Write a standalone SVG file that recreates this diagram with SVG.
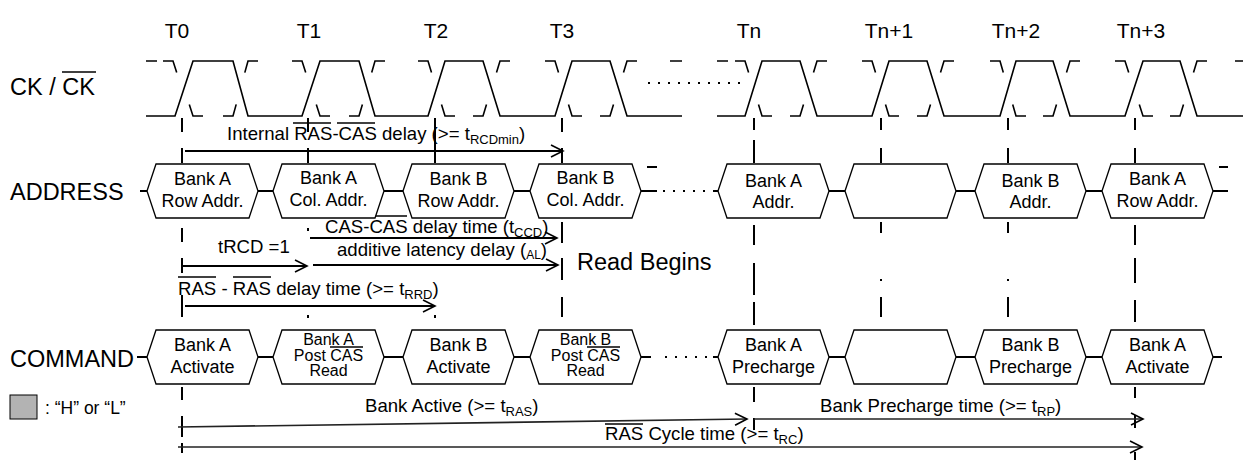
<svg xmlns="http://www.w3.org/2000/svg" width="1243" height="462" viewBox="0 0 1243 462">
<style>
text{font-family:"Liberation Sans",Arial,sans-serif;fill:#000}
.lbl{font-size:23.5px}
.t{font-size:21px;text-anchor:middle}
.bx{font-size:18px;text-anchor:middle}
.bs{font-size:16px;text-anchor:middle}
.an{font-size:18.6px}
.hex{fill:#fff;stroke:#000;stroke-width:1.3}
.wire{fill:none;stroke:#000;stroke-width:2}
.clk{fill:none;stroke:#000;stroke-width:1.6}
.tl{fill:none;stroke:#000;stroke-width:2}
.arw{fill:none;stroke:#000;stroke-width:2;marker-end:url(#ah)}
.arw2{fill:none;stroke:#222;stroke-width:1.6;marker-end:url(#ah)}
.ov{stroke:#000;stroke-width:1.5}
.dots{fill:none;stroke:#000;stroke-width:2;stroke-dasharray:2,8}
</style>
<defs>
<marker id="ah" markerUnits="userSpaceOnUse" markerWidth="14" markerHeight="14" refX="12" refY="7" orient="auto" overflow="visible">
<path d="M0,1 L12,7 L0,13" fill="none" stroke="#000" stroke-width="1.6"/>
</marker>
</defs>
<rect width="1243" height="462" fill="#fff"/>

<g id="labels">
<text class="t" x="177" y="38">T0</text>
<text class="t" x="309" y="38">T1</text>
<text class="t" x="436" y="38">T2</text>
<text class="t" x="562" y="38">T3</text>
<text class="t" x="749" y="38">Tn</text>
<text class="t" x="889" y="38">Tn+1</text>
<text class="t" x="1016" y="38">Tn+2</text>
<text class="t" x="1141" y="38">Tn+3</text>
<text class="lbl" x="10" y="95">CK / CK</text>
<line class="ov" x1="62" y1="72" x2="96" y2="72"/>
<text class="lbl" x="10" y="200">ADDRESS</text>
<text class="lbl" x="10" y="367">COMMAND</text>
<rect x="10" y="395" width="27" height="24" fill="#b3b3b3" stroke="#000" stroke-width="1"/>
<text x="45" y="414" style="font-size:17.5px">: “H” or “L”</text>
</g>

<g id="clock">
<path class="clk" d="M146,116 H175 L193,61 H233 L248,116 H302 L320,61 H359 L375,116 H428 L445,61 H483 L500,116 H555 L572,61 H610 L627,116 H682"/>
<path class="clk" d="M146,61H157 M163,61 L173,61 L176.7,72.4 M189.3,104.6 L193,116 L203,116 M223,116 L233,116 L236.2,104.4 M244.8,72.6 L248,61 L258,61 M292,61 L302,61 L305.7,72.4 M316.3,104.6 L320,116 L330,116 M349,116 L359,116 L362.4,104.4 M371.7,72.5 L375,61 L385,61 M418,61 L428,61 L431.5,72.4 M441.5,104.6 L445,116 L455,116 M473,116 L483,116 L486.5,104.5 M496.5,72.5 L500,61 L510,61 M545,61 L555,61 L558.5,72.4 M568.5,104.6 L572,116 L582,116 M600,116 L610,116 L613.5,104.5 M623.5,72.5 L627,61 L637,61 M670,61 H682"/>
<line class="dots" x1="648" y1="83" x2="745" y2="83"/>
<path class="clk" d="M717,116 H745 L762,61 H800 L817,116 H872 L889,61 H927 L944,116 H1000 L1016,61 H1053 L1070,116 H1125 L1143,61 H1180 L1197,116 H1243"/>
<path class="clk" d="M717,61H728 M735,61 L745,61 L748.6,72.4 M758.5,104.6 L762,116 L772,116 M790,116 L800,116 L803.5,104.5 M813.5,72.5 L817,61 L827,61 M862,61 L872,61 L875.5,72.4 M885.5,104.6 L889,116 L899,116 M917,116 L927,116 L930.5,104.5 M940.5,72.5 L944,61 L954,61 M990,61 L1000,61 L1003.3,72.5 M1012.7,104.5 L1016,116 L1026,116 M1043,116 L1053,116 L1056.5,104.5 M1066.5,72.5 L1070,61 L1080,61 M1115,61 L1125,61 L1128.7,72.4 M1139.3,104.6 L1143,116 L1153,116 M1170,116 L1180,116 L1183.5,104.5 M1193.5,72.5 L1197,61 L1207,61 M1235,61 H1243"/>
</g>

<g id="timelines">
<path class="tl" d="M182,118V132M182,148V163M182,228V242M182,258V273M182,295V317M182,387V400M182,416V437M182,443V453"/>
<path class="tl" d="M308,118V132M308,148V163M308,228V231M308,315V318"/>
<path class="tl" d="M435,118V163M435,315V318"/>
<path class="tl" d="M562,118V132M562,148V163M562,222V243M562,258V280M562,297V317"/>
<path class="tl" d="M754,118V130M754,140V163M754,225V245M754,263V295M754,302V325M754,387V402M754,418V430"/>
<path class="tl" d="M881,118V130M881,148V163M881,222V233M881,279V281M881,297V317"/>
<path class="tl" d="M1008,118V130M1008,148V163M1008,222V233M1008,279V281M1008,297V317"/>
<path class="tl" d="M1135,118V130M1135,148V163M1135,225V245M1135,258V283M1135,300V322M1135,387V398M1135,415V428M1135,452V460"/>
</g>

<g id="connectors">
<path class="wire" d="M140,191H147M258,191H273M384,191H403M514,191H530M641,191H657M713,191H718M829,191H845M956,191H975M1086,191H1102M1213,191H1228M647,167H657M1219,167H1228"/>
<line class="dots" x1="663" y1="191" x2="712" y2="191"/>
<path class="wire" d="M137,357H147M258,357H273M384,357H403M514,357H530M641,357H651M713,357H718M829,357H845M956,357H975M1086,357H1102M1213,357H1222"/>
<line class="dots" x1="665" y1="357" x2="712" y2="357"/>
<path class="arw" d="M185,151H563"/>
<path class="arw" d="M310,238H557"/>
<path class="arw" d="M313,265H558"/>
<path class="arw" d="M182,266H307"/>
<path class="arw" d="M185,306H435"/>
<path class="arw2" d="M178,427L747,419"/>
<path class="arw2" d="M754,419H1143"/>
<path class="arw2" d="M178,447H1142"/>
</g>

<g id="annotations">
<text class="an" x="227" y="140">Internal RAS-CAS delay (&gt;= t<tspan font-size="13" dy="4">RCDmin</tspan><tspan dy="-4">)</tspan></text>
<line class="ov" x1="293" y1="123" x2="331" y2="123"/>
<line class="ov" x1="337" y1="123" x2="375" y2="123"/>
<text class="an" x="325" y="233">CAS-CAS delay time (t<tspan font-size="13" dy="4">CCD</tspan><tspan dy="-4">)</tspan></text>
<line class="ov" x1="325" y1="216" x2="363" y2="216"/>
<line class="ov" x1="369" y1="216" x2="407" y2="216"/>
<text class="an" x="337" y="256">additive latency delay (<tspan font-size="12" dy="3">AL</tspan><tspan dy="-3">)</tspan></text>
<text class="an" x="218" y="253">tRCD =1</text>
<text class="an" x="178" y="295">RAS - RAS delay time (&gt;= t<tspan font-size="13" dy="4">RRD</tspan><tspan dy="-4">)</tspan></text>
<line class="ov" x1="178" y1="277" x2="216" y2="277"/>
<line class="ov" x1="233" y1="277" x2="271" y2="277"/>
<text x="577" y="270" style="font-size:23.5px">Read Begins</text>
<text class="an" x="365" y="412">Bank Active (&gt;= t<tspan font-size="13" dy="4">RAS</tspan><tspan dy="-4">)</tspan></text>
<text class="an" x="820" y="412">Bank Precharge time (&gt;= t<tspan font-size="13" dy="4">RP</tspan><tspan dy="-4">)</tspan></text>
<text class="an" x="605" y="440">RAS Cycle time (&gt;= t<tspan font-size="13" dy="4">RC</tspan><tspan dy="-4">)</tspan></text>
<line class="ov" x1="605" y1="424" x2="643" y2="424"/>
</g>

<g id="addr1"><polygon class="hex" points="147,191 156,164 249,164 258,191 249,218 156,218"/><text class="bx" x="202.5" y="185">Bank A</text><text class="bx" x="202.5" y="207">Row Addr.</text></g>
<g id="addr2"><polygon class="hex" points="273,191 282,164 375,164 384,191 375,218 282,218"/><text class="bx" x="328.5" y="184">Bank A</text><text class="bx" x="328.5" y="206">Col. Addr.</text></g>
<g id="addr3"><polygon class="hex" points="403,191 412,164 505,164 514,191 505,218 412,218"/><text class="bx" x="458.5" y="185">Bank B</text><text class="bx" x="458.5" y="207">Row Addr.</text></g>
<g id="addr4"><polygon class="hex" points="530,191 539,164 632,164 641,191 632,218 539,218"/><text class="bx" x="585.5" y="184">Bank B</text><text class="bx" x="585.5" y="206">Col. Addr.</text></g>
<g id="addr5"><polygon class="hex" points="718,191 727,164 820,164 829,191 820,218 727,218"/><text class="bx" x="773.5" y="187">Bank A</text><text class="bx" x="773.5" y="208">Addr.</text></g>
<g id="addr6"><polygon class="hex" points="845,191 854,164 947,164 956,191 947,218 854,218"/></g>
<g id="addr7"><polygon class="hex" points="975,191 984,164 1077,164 1086,191 1077,218 984,218"/><text class="bx" x="1030.5" y="187">Bank B</text><text class="bx" x="1030.5" y="208">Addr.</text></g>
<g id="addr8"><polygon class="hex" points="1102,191 1111,164 1204,164 1213,191 1204,218 1111,218"/><text class="bx" x="1157.5" y="185">Bank A</text><text class="bx" x="1157.5" y="207">Row Addr.</text></g>

<g id="cmd1"><polygon class="hex" points="147,357 156,330 249,330 258,357 249,384 156,384"/><text class="bx" x="202.5" y="351">Bank A</text><text class="bx" x="202.5" y="373">Activate</text></g>
<g id="cmd2"><polygon class="hex" points="273,357 282,330 375,330 384,357 375,384 282,384"/><text class="bs" x="328.5" y="345">Bank A</text><text class="bs" x="328.5" y="361">Post CAS</text><text class="bs" x="328.5" y="376">Read</text><line class="ov" x1="330" y1="347" x2="363" y2="347"/></g>
<g id="cmd3"><polygon class="hex" points="403,357 412,330 505,330 514,357 505,384 412,384"/><text class="bx" x="458.5" y="351">Bank B</text><text class="bx" x="458.5" y="373">Activate</text></g>
<g id="cmd4"><polygon class="hex" points="530,357 539,330 632,330 641,357 632,384 539,384"/><text class="bs" x="585.5" y="345">Bank B</text><text class="bs" x="585.5" y="361">Post CAS</text><text class="bs" x="585.5" y="376">Read</text><line class="ov" x1="587" y1="347" x2="620" y2="347"/></g>
<g id="cmd5"><polygon class="hex" points="718,357 727,330 820,330 829,357 820,384 727,384"/><text class="bx" x="773.5" y="351">Bank A</text><text class="bx" x="773.5" y="373">Precharge</text></g>
<g id="cmd6"><polygon class="hex" points="845,357 854,330 947,330 956,357 947,384 854,384"/></g>
<g id="cmd7"><polygon class="hex" points="975,357 984,330 1077,330 1086,357 1077,384 984,384"/><text class="bx" x="1030.5" y="351">Bank B</text><text class="bx" x="1030.5" y="373">Precharge</text></g>
<g id="cmd8"><polygon class="hex" points="1102,357 1111,330 1204,330 1213,357 1204,384 1111,384"/><text class="bx" x="1157.5" y="351">Bank A</text><text class="bx" x="1157.5" y="373">Activate</text></g>
</svg>
